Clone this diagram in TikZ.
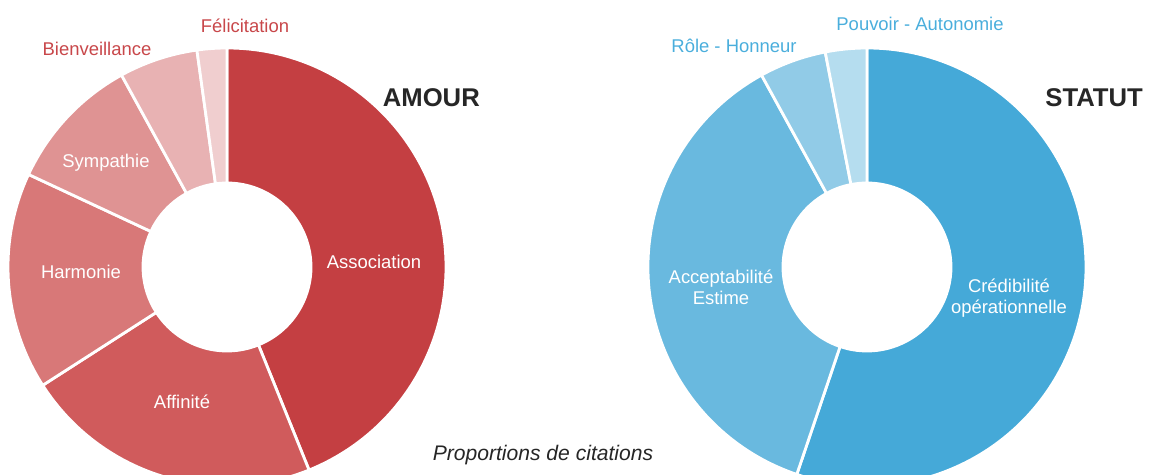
\documentclass[tikz,border=0pt]{standalone}
\usepackage{fontspec}
\setmainfont{Liberation Sans}

\definecolor{amA}{HTML}{C43F42}
\definecolor{amB}{HTML}{D05B5C}
\definecolor{amC}{HTML}{D87878}
\definecolor{amD}{HTML}{DF9393}
\definecolor{amE}{HTML}{E8B2B3}
\definecolor{amF}{HTML}{F0CECF}
\definecolor{amtext}{HTML}{C8474A}
\definecolor{stA}{HTML}{45A9D8}
\definecolor{stB}{HTML}{69B9DF}
\definecolor{stC}{HTML}{91CBE7}
\definecolor{stD}{HTML}{B5DDEF}
\definecolor{sttext}{HTML}{4AAEDC}

\tikzset{
  slice/.style={draw=white, line width=1.6pt},
  inlabel/.style={text=white, align=center, font=\fontsize{10.5}{12}\selectfont},
  outlabel/.style={font=\fontsize{10.5}{12}\selectfont},
  title/.style={anchor=east, text=black!85, font=\fontsize{14.6}{16}\selectfont\bfseries},
}

\begin{document}
\begin{tikzpicture}[x=0.02cm, y=0.02cm]
\useasboundingbox (0,0) rectangle (1149,475);
\clip (0,0) rectangle (1149,475);

% AMOUR
\begin{scope}[shift={(227,208)}]
\foreach \a/\b/\col in {90/-68/amA, -68/-147.3/amB, -147.3/-205/amC,
                        -205/-241.2/amD, -241.2/-262.1/amE, -262.1/-270/amF}
  \filldraw[slice, fill=\col] (\a:219) arc[start angle=\a, end angle=\b, radius=219]
    -- (\b:84) arc[start angle=\b, end angle=\a, radius=84] -- cycle;
\end{scope}
\node[inlabel] (association) at (374,213) {Association};
\node[inlabel] (affinite) at (182,73) {Affinité};
\node[inlabel] (harmonie) at (81,203) {Harmonie};
\node[inlabel] (sympathie) at (106,312) {Sympathie};
\node[outlabel, text=amtext] (bienveillance) at (97,426) {Bienveillance};
\node[outlabel, text=amtext] (felicitation) at (245,449) {Félicitation};
\node[title] (amour) at (486,377) {AMOUR};

% STATUT
\begin{scope}[shift={(867,208)}]
\foreach \a/\b/\col in {90/-108.7/stA, -108.7/-241.2/stB, -241.2/-259/stC, -259/-270/stD}
  \filldraw[slice, fill=\col] (\a:219) arc[start angle=\a, end angle=\b, radius=219]
    -- (\b:84) arc[start angle=\b, end angle=\a, radius=84] -- cycle;
\end{scope}
\node[inlabel] (credibilite) at (1009,177) {Crédibilité\\opérationnelle};
\node[inlabel] (acceptabilite) at (721,188) {Acceptabilité\\Estime};
\node[outlabel, text=sttext] (role) at (734,429) {Rôle - Honneur};
\node[outlabel, text=sttext] (pouvoir) at (920,451) {Pouvoir - Autonomie};
\node[title] (statut) at (1149,377) {STATUT};

\node[text=black!85, font=\fontsize{12}{14}\selectfont\itshape] (legende) at (543,20) {Proportions de citations};
\end{tikzpicture}
\end{document}
